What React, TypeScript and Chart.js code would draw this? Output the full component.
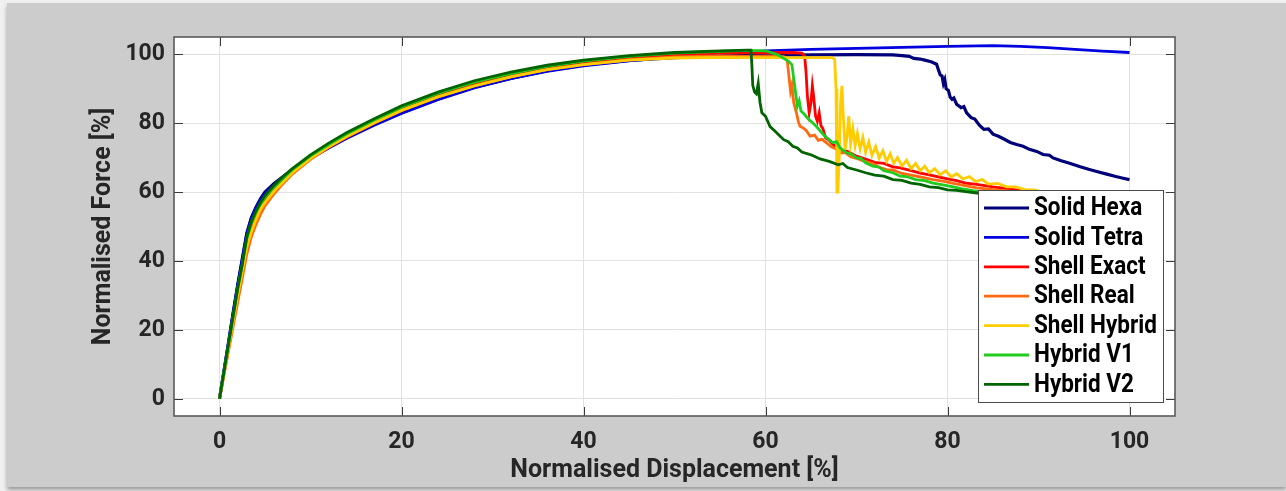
import React, { useEffect, useRef } from "react";
import { Chart, registerables } from "chart.js";

Chart.register(...registerables);

// ---------- data ----------
const xTicks = [0, 20, 40, 60, 80, 100];
const yTicks = [0, 20, 40, 60, 80, 100];
const xTitle = "Normalised Displacement [%]";
const yTitle = "Normalised Force [%]";

const seriesNames = ["Solid Hexa", "Solid Tetra", "Shell Exact", "Shell Real", "Shell Hybrid", "Hybrid V1", "Hybrid V2"];
const seriesColors = ["#00007a", "#0000e0", "#ff0000", "#ff6a10", "#ffcc00", "#1fcc1f", "#006400"];

// common displacement points of the rising part
const riseDisp = [0, 0.5, 1, 1.5, 2, 2.5, 3, 3.5, 4, 4.5, 5, 6, 7, 8, 10, 12, 14, 17, 20, 24, 28, 32, 36, 40, 45, 50, 55];

const hexaRise = [0, 8.2, 16.5, 25, 33, 40.5, 48, 52.5, 55.5, 58, 60, 62.5, 64.5, 66.5, 70, 73, 75.8, 79.6, 83, 87, 90.4, 93, 95.2, 96.8, 98.2, 99, 99.5];
const hexaDropDisp = [60, 65, 70, 74, 75, 75.8, 76.3, 77, 77.5, 78.2, 78.8, 79, 79.2, 79.4, 79.55, 79.7, 79.85, 80.1, 80.3, 80.5, 80.7, 81, 81.5, 81.8, 82.1, 82.6, 83, 83.5, 84, 84.5, 85, 85.6, 86.2, 86.9, 87.6, 88.3, 89, 89.8, 90.5, 91.2, 91.6, 92.5, 93.5, 94.5, 95.5, 96.5, 97.5, 98.5, 99.3, 100];
const hexaDropForce = [99.7, 99.8, 99.9, 99.8, 99.6, 99.4, 98.8, 98.6, 98.3, 97.8, 97.1, 95.5, 94, 93.7, 91.5, 92.6, 90, 89.5, 87.5, 86.9, 87.3, 85.5, 84.5, 84.8, 83, 81.6, 81.2, 79.4, 78.2, 78.3, 76.8, 76.2, 75.4, 74.4, 73.8, 73.3, 72.4, 71.8, 70.9, 70.7, 69.9, 69.1, 68.3, 67.4, 66.6, 65.9, 65.2, 64.5, 64, 63.6];

const tetraRise = [0, 8.2, 16.5, 25, 33, 40.5, 48, 52.5, 55.3, 57.6, 59.5, 62, 64, 66, 69.7, 72.8, 75.6, 79.4, 82.8, 86.8, 90.2, 92.9, 95, 96.6, 98.1, 99.2, 100.4];
const tetraTailDisp = [60, 65, 70, 75, 80, 85, 88, 91, 94, 97, 100];
const tetraTailForce = [101, 101.4, 101.7, 102, 102.3, 102.5, 102.3, 101.9, 101.4, 100.9, 100.5];

const exactRise = [0, 7.5, 15, 23, 31, 38, 45.5, 50, 53, 55.5, 57.5, 60.8, 63.5, 66, 70, 73.4, 76.5, 80.5, 84.2, 88.2, 91.5, 94, 96.2, 97.7, 99, 99.9, 100.3];
const exactDropDisp = [58, 63, 64, 64.3, 64.45, 64.6, 64.8, 65, 65.15, 65.3, 65.5, 65.7, 65.9, 66.1, 66.3, 66.6, 67, 67.5, 68, 68.5, 69, 70, 71, 72, 73, 74, 74.8, 76, 77, 78, 79, 80, 81, 82, 83, 85, 88];
const exactDropForce = [100.4, 100.5, 100.3, 99.5, 95, 88, 83, 86, 90.8, 87.5, 82, 80.5, 83, 79.2, 78.5, 75.7, 75, 73.6, 73.2, 72, 71.8, 70.4, 69.6, 68.6, 68.3, 67.3, 67, 66.2, 65.5, 65, 64.4, 63.8, 63.3, 62.6, 62.3, 61.5, 60.5];

const realRise = [0, 7, 14, 21, 28, 35, 42, 47, 50.5, 53.5, 56, 59.5, 62.5, 65.2, 69.5, 73, 76, 80, 83.6, 87.6, 90.8, 93.4, 95.5, 97, 98.4, 99.2, 99.5];
const realDropDisp = [58, 61, 62, 62.4, 62.6, 62.75, 62.9, 63.1, 63.4, 63.6, 63.8, 64.2, 64.5, 64.9, 65.4, 65.8, 66.2, 66.7, 67.2, 67.7, 68.2, 68.8, 69.4, 70, 70.4, 71, 71.8, 72.5, 73.3, 74, 75, 76, 77, 78.4, 79.5, 80.5, 81.5, 83.2, 85, 87];
const realDropForce = [99.4, 99.5, 99.3, 98, 93, 89.3, 91, 86, 83, 80.5, 79.1, 78.5, 77.8, 76.2, 76.5, 75, 75.3, 74.3, 73.2, 72.6, 71.4, 71.4, 70.2, 69.8, 69.4, 68.8, 68.3, 67.2, 66.5, 66.4, 65.4, 64.9, 64.4, 63.6, 63.2, 62.6, 62.1, 61.2, 60.7, 60.2];

const hybridRise = [0, 7.5, 15, 22.5, 30, 37, 44, 48.5, 52, 55, 57, 60.3, 63, 65.6, 69.8, 73.2, 76.2, 80.1, 83.7, 87.6, 90.8, 93.4, 95.5, 97, 98.3, 98.9, 99.1];
const hybridDropDisp = [58, 66, 67.3, 67.6, 67.75, 67.85, 67.95, 68.1, 68.25, 68.4, 68.55, 68.75, 68.95, 69.15, 69.35, 69.6, 69.85, 70.1, 70.4, 70.7, 71, 71.35, 71.7, 72.1, 72.5, 72.9, 73.3, 73.7, 74.1, 74.5, 75, 75.5, 76, 76.5, 77, 77.5, 78, 78.6, 79.2, 79.8, 80.4, 81, 81.7, 82.4, 83.1, 83.8, 84.5, 85.5, 86.5, 87.5, 88.5, 89.5, 90.5];
const hybridDropForce = [99, 99, 99, 98.5, 90, 60, 60, 70, 86, 90.8, 82, 72.3, 76, 82, 74, 78.5, 73.5, 77, 72.5, 75.8, 71.5, 74.5, 70.6, 73.2, 69.8, 72, 68.9, 71.1, 68.3, 70, 67.6, 69.2, 66.8, 68.3, 66.2, 67.5, 65.6, 66.8, 65, 66.2, 64.4, 65.3, 63.8, 64.5, 63, 63.7, 62.3, 62.5, 61.5, 61.5, 60.7, 60.6, 60];

const v1Rise = [0, 8, 16, 24, 32, 39, 46.5, 51, 54, 56.5, 58.5, 61.5, 64, 66.5, 70.5, 73.8, 76.9, 80.9, 84.6, 88.6, 91.9, 94.4, 96.5, 98, 99.4, 100.3, 100.8];
const v1DropDisp = [58, 60, 60.5, 61, 61.5, 62, 62.5, 62.9, 63.1, 63.3, 63.5, 63.7, 63.9, 64.3, 64.7, 65.1, 65.6, 66, 66.5, 67, 67.4, 67.8, 68.2, 68.9, 69.5, 70, 70.5, 71, 71.8, 72.5, 73, 74, 74.8, 75.5, 76.5, 77.5, 78.4, 79.5, 80.5, 81.5, 82.8, 84, 85, 87];
const v1DropForce = [101.1, 101, 100.6, 100.2, 99.6, 98.8, 98, 97, 93, 89, 85, 86.5, 83.5, 82.5, 81.2, 80.3, 79, 77.8, 76.3, 75.2, 74.3, 74.6, 72.8, 71.4, 70.9, 69.9, 69.8, 68.5, 67.5, 67.2, 66.2, 65.6, 64.6, 64.5, 63.6, 63.3, 62.6, 62.1, 61.6, 61, 60.4, 60, 59.8, 59.3];

const v2Rise = [0, 8, 16, 24, 32, 39, 47, 51.5, 54.5, 57, 59, 62, 64.5, 66.8, 70.8, 74.2, 77.3, 81.3, 85, 89, 92.3, 94.8, 96.8, 98.3, 99.6, 100.5, 101];
const v2DropDisp = [58, 58.4, 58.5, 58.6, 58.8, 59, 59.2, 59.4, 59.6, 60, 60.5, 61, 61.5, 62, 62.5, 63, 63.5, 64, 65, 66, 67, 68, 68.5, 69, 70, 71, 72, 73, 74, 75, 76, 77, 78, 79, 80, 81, 82, 83, 84, 86];
const v2DropForce = [101.2, 101.2, 97, 91, 89, 88.5, 91.5, 86, 83, 82, 79, 77.8, 76.5, 75.2, 74.6, 73.3, 72.8, 71.6, 70.8, 69.6, 68.9, 67.9, 68.3, 67.1, 66.4, 65.6, 64.9, 64.6, 63.6, 63.4, 62.6, 62.2, 61.5, 61.3, 60.6, 60.5, 60.1, 59.8, 59.5, 59];

const seriesDisp = [
  riseDisp.concat(hexaDropDisp),
  riseDisp.concat(tetraTailDisp),
  riseDisp.concat(exactDropDisp),
  riseDisp.concat(realDropDisp),
  riseDisp.concat(hybridDropDisp),
  riseDisp.concat(v1DropDisp),
  riseDisp.concat(v2DropDisp),
];
const seriesForce = [
  hexaRise.concat(hexaDropForce),
  tetraRise.concat(tetraTailForce),
  exactRise.concat(exactDropForce),
  realRise.concat(realDropForce),
  hybridRise.concat(hybridDropForce),
  v1Rise.concat(v1DropForce),
  v2Rise.concat(v2DropForce),
];

const FONT = "Roboto, 'Liberation Sans', Arial, sans-serif";
const TEXT = "#262626";

const bgPlugin = {
  id: "plotBg",
  beforeDraw(chart: any) {
    const { ctx, chartArea: a } = chart;
    ctx.save();
    ctx.fillStyle = "#ffffff";
    ctx.fillRect(a.left, a.top, a.right - a.left, a.bottom - a.top);
    ctx.restore();
  },
};

const framePlugin = {
  id: "frame",
  afterDatasetsDraw(chart: any) {
    const { ctx, chartArea: a, scales } = chart;
    ctx.save();
    ctx.strokeStyle = "#3a3a3a";
    ctx.lineWidth = 1;
    const tl = 9;
    ctx.beginPath();
    xTicks.forEach((v) => {
      const px = Math.round(scales.x.getPixelForValue(v)) + 0.5;
      ctx.moveTo(px, a.bottom);
      ctx.lineTo(px, a.bottom - tl);
      ctx.moveTo(px, a.top);
      ctx.lineTo(px, a.top + tl);
    });
    yTicks.forEach((v) => {
      const py = Math.round(scales.y.getPixelForValue(v)) + 0.5;
      ctx.moveTo(a.left, py);
      ctx.lineTo(a.left + tl, py);
      ctx.moveTo(a.right, py);
      ctx.lineTo(a.right - tl, py);
    });
    ctx.stroke();
    ctx.strokeStyle = "#5a5a5a";
    ctx.lineWidth = 1.6;
    ctx.strokeRect(a.left, a.top, a.right - a.left, a.bottom - a.top);
    ctx.restore();
  },
};

const legendPlugin = {
  id: "boxLegend",
  afterDatasetsDraw(chart: any) {
    const { ctx } = chart;
    const x0 = 978, y0 = 190, w = 185, h = 212;
    ctx.save();
    ctx.fillStyle = "#ffffff";
    ctx.fillRect(x0, y0, w, h);
    ctx.strokeStyle = "#4a4a4a";
    ctx.lineWidth = 1;
    ctx.strokeRect(x0 + 0.5, y0 + 0.5, w, h);
    seriesNames.forEach((name, i) => {
      const y = y0 + 18 + i * 29.4;
      ctx.strokeStyle = seriesColors[i];
      ctx.lineWidth = 2.8;
      ctx.beginPath();
      ctx.moveTo(x0 + 6, y);
      ctx.lineTo(x0 + 51, y);
      ctx.stroke();
      ctx.save();
      ctx.translate(x0 + 56, y + 1);
      ctx.scale(0.9, 1);
      ctx.font = `bold 25px ${FONT}`;
      ctx.textBaseline = "middle";
      ctx.textAlign = "left";
      ctx.fillStyle = "#000000";
      ctx.fillText(name, 0, 0);
      ctx.restore();
    });
    ctx.restore();
  },
};

export default function App() {
  const ref = useRef<HTMLCanvasElement | null>(null);

  useEffect(() => {
    if (!ref.current) return;
    const datasets = seriesNames.map((name, i) => ({
      label: name,
      data: seriesDisp[i].map((x, j) => ({ x, y: seriesForce[i][j] })),
      borderColor: seriesColors[i],
      backgroundColor: seriesColors[i],
      borderWidth: i === 0 ? 3.2 : 2.8,
      pointRadius: 0,
      tension: 0,
      fill: false,
      order: seriesNames.length - i,
    }));
    const chart = new Chart(ref.current, {
      type: "line",
      data: { datasets },
      options: {
        animation: false,
        responsive: false,
        maintainAspectRatio: false,
        layout: { padding: { top: 37, right: 111, left: 0, bottom: 0 } },
        plugins: { legend: { display: false }, tooltip: { enabled: false } },
        scales: {
          x: {
            type: "linear",
            min: -5,
            max: 105,
            afterBuildTicks: (s: any) => {
              s.ticks = xTicks.map((v) => ({ value: v }));
            },
            afterFit: (s: any) => {
              s.height = 75;
            },
            border: { display: false },
            grid: { color: "#e2e2e2", lineWidth: 1, drawTicks: false },
            ticks: { padding: 12, color: TEXT, font: { family: FONT, size: 23, weight: "bold" }, maxRotation: 0 },
            title: {
              display: true,
              text: xTitle,
              color: TEXT,
              font: { family: FONT, size: 25, weight: "bold" },
              padding: { top: 0, bottom: 5 },
            },
          },
          y: {
            type: "linear",
            min: -5,
            max: 105,
            afterBuildTicks: (s: any) => {
              s.ticks = yTicks.map((v) => ({ value: v }));
            },
            afterFit: (s: any) => {
              s.width = 174;
            },
            border: { display: false },
            grid: { color: "#e2e2e2", lineWidth: 1, drawTicks: false },
            ticks: { padding: 9, color: TEXT, font: { family: FONT, size: 23, weight: "bold" } },
            title: {
              display: true,
              text: yTitle,
              color: TEXT,
              font: { family: FONT, size: 25, weight: "bold" },
              padding: { top: 89, bottom: 0 },
            },
          },
        },
      },
      plugins: [bgPlugin, framePlugin, legendPlugin],
    } as any);
    return () => chart.destroy();
  }, []);

  return (
    <div style={{ position: "fixed", left: 0, top: 0, width: 1286, height: 491, background: "#f0f0f0", overflow: "hidden" }}>
      <div
        style={{
          position: "absolute",
          left: 7,
          top: 3,
          width: 1279,
          height: 484,
          background: "#cccccc",
          boxShadow: "0 3px 4px rgba(0,0,0,0.35)",
        }}
      />
      <canvas ref={ref} width={1286} height={491} style={{ position: "absolute", left: 0, top: 0, width: 1286, height: 491 }} />
    </div>
  );
}
